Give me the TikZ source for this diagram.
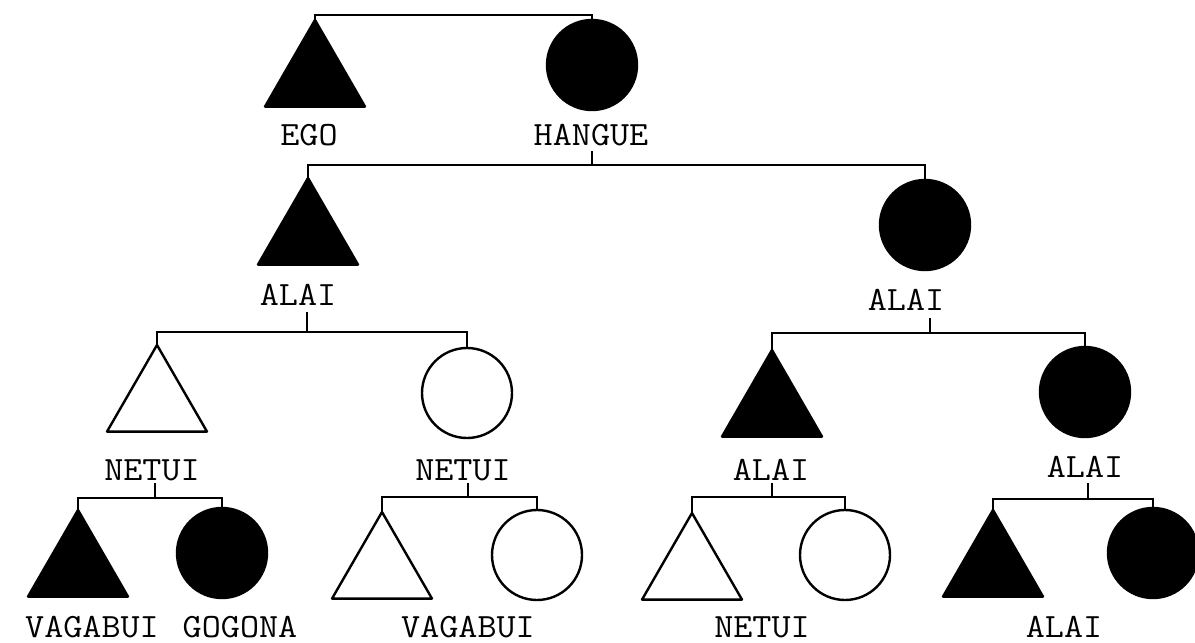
\documentclass[tikz,border=0pt]{standalone}
\usepackage{fontspec}
\usepackage{graphicx}
\usetikzlibrary{shapes.geometric}
\newcommand{\twtext}[1]{\scalebox{1.09}[1]{#1}}
\begin{document}
\begin{tikzpicture}[x=0.5pt,y=-0.5pt,
  line width=1.2pt,
  tri/.style={regular polygon, regular polygon sides=3, minimum size=57.7pt, inner sep=0pt, outer sep=0pt, draw, anchor=north, line join=round},
  circ/.style={circle, minimum size=45pt, inner sep=0pt, outer sep=0pt, draw, anchor=north},
  full/.style={fill=black},
  open/.style={fill=white},
  lab/.style={font=\fontsize{17}{20}\selectfont\ttfamily, inner sep=0pt},
  link/.style={line width=1.2pt}]
\path[use as bounding box] (0,0) rectangle (1195,643);

% generation 0
\node[tri,full] (ego) at (315,20) {};
\node[circ,full] (hangue) at (592,20) {};
\node[lab] (egoL) at (309,135) {\twtext{EGO}};
\node[lab] (hangueL) at (591,135) {\twtext{HANGUE}};
\coordinate (b0) at (450,15);

% generation 1
\node[tri,full] (a1) at (308,178) {};
\node[circ,full] (a2) at (925,180) {};
\node[lab] (a1L) at (298,295) {\twtext{ALAI}};
\node[lab] (a2L) at (906,300) {\twtext{ALAI}};
\coordinate (t1) at (592,151);
\coordinate (b1) at (592,165);

% generation 2
\node[tri,open] (n1) at (157,345) {};
\node[circ,open] (n2) at (467,348) {};
\node[tri,full] (a3) at (772,350) {};
\node[circ,full] (a4) at (1085,347) {};
\node[lab] (n1L) at (152,470) {\twtext{NETUI}};
\node[lab] (n2L) at (463,470) {\twtext{NETUI}};
\node[lab] (a3L) at (771,470) {\twtext{ALAI}};
\node[lab] (a4L) at (1085,467) {\twtext{ALAI}};
\coordinate (t2) at (307,312);
\coordinate (b2) at (307,332);
\coordinate (t3) at (930,318);
\coordinate (b3) at (930,333);

% generation 3
\node[tri,full] (c1) at (78,510) {};
\node[circ,full] (c2) at (222,508) {};
\node[tri,open] (c3) at (382,512) {};
\node[circ,open] (c4) at (537,510) {};
\node[tri,open] (c5) at (692,513) {};
\node[circ,open] (c6) at (845,510) {};
\node[tri,full] (c7) at (993,510) {};
\node[circ,full] (c8) at (1153,508) {};
\node[lab] (c1L) at (92,627) {\twtext{VAGABUI}};
\node[lab] (c2L) at (240,627) {\twtext{GOGONA}};
\node[lab] (c34L) at (468,627) {\twtext{VAGABUI}};
\node[lab] (c56L) at (762,627) {\twtext{NETUI}};
\node[lab] (c78L) at (1064,627) {\twtext{ALAI}};
\coordinate (t4) at (155,483);
\coordinate (b4) at (155,498);
\coordinate (t5) at (468,483);
\coordinate (b5) at (468,497);
\coordinate (t6) at (772,483);
\coordinate (b6) at (772,497);
\coordinate (t7) at (1088,483);
\coordinate (b7) at (1088,499);

% connectors
\draw[link] (ego.north) -- (ego.north |- b0) -- (hangue.north |- b0) -- (hangue.north);
\draw[link] (t1) -- (b1);
\draw[link] (a1.north) -- (a1.north |- b1) -- (a2.north |- b1) -- (a2.north);
\draw[link] (t2) -- (b2);
\draw[link] (n1.north) -- (n1.north |- b2) -- (n2.north |- b2) -- (n2.north);
\draw[link] (t3) -- (b3);
\draw[link] (a3.north) -- (a3.north |- b3) -- (a4.north |- b3) -- (a4.north);
\draw[link] (t4) -- (b4);
\draw[link] (c1.north) -- (c1.north |- b4) -- (c2.north |- b4) -- (c2.north);
\draw[link] (t5) -- (b5);
\draw[link] (c3.north) -- (c3.north |- b5) -- (c4.north |- b5) -- (c4.north);
\draw[link] (t6) -- (b6);
\draw[link] (c5.north) -- (c5.north |- b6) -- (c6.north |- b6) -- (c6.north);
\draw[link] (t7) -- (b7);
\draw[link] (c7.north) -- (c7.north |- b7) -- (c8.north |- b7) -- (c8.north);
\end{tikzpicture}
\end{document}
